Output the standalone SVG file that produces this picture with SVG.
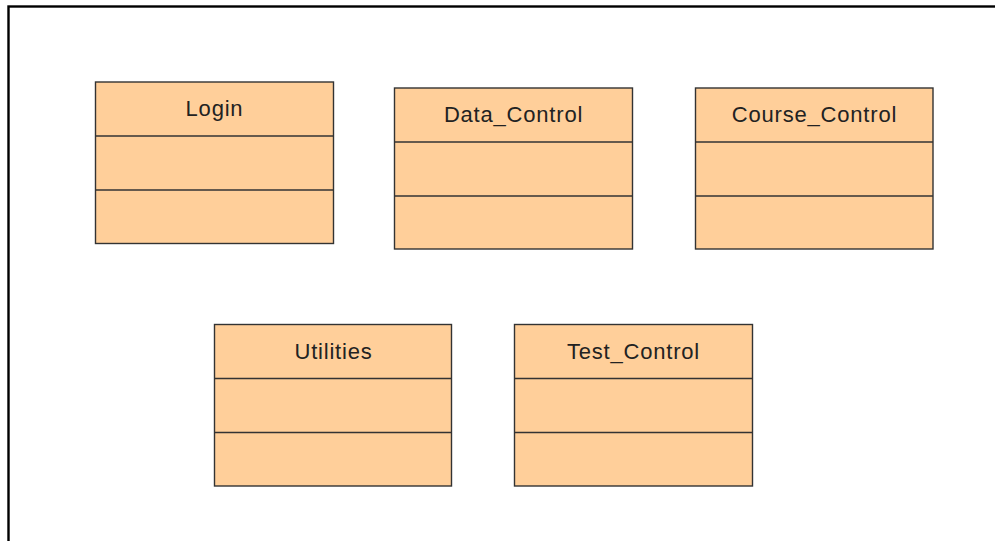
<svg xmlns="http://www.w3.org/2000/svg" width="995" height="541" viewBox="0 0 995 541">
  <style>
    .frame { fill: none; stroke: #000; stroke-width: 2.4; }
    .box { fill: #FFCF9A; stroke: #333; stroke-width: 1.4; }
    .div { stroke: #333; stroke-width: 1.4; }
    .name { font-family: "Liberation Sans", Arial, sans-serif; font-size: 22px; fill: #222; text-anchor: middle; letter-spacing: 0.8px; }
  </style>
  <rect width="995" height="541" fill="#fff"/>
  <!-- outer frame, open on the right and bottom edges of the view -->
  <rect class="frame" x="8.5" y="6.5" width="1010" height="600"/>

  <g id="Login">
    <rect class="box" x="95.5" y="82" width="238" height="161.5"/>
    <line class="div" x1="95.5" y1="136" x2="333.5" y2="136"/>
    <line class="div" x1="95.5" y1="190" x2="333.5" y2="190"/>
    <text class="name" x="214.5" y="116">Login</text>
  </g>

  <g id="Data_Control">
    <rect class="box" x="394.5" y="88" width="238" height="161"/>
    <line class="div" x1="394.5" y1="142" x2="632.5" y2="142"/>
    <line class="div" x1="394.5" y1="196" x2="632.5" y2="196"/>
    <text class="name" x="513.5" y="122">Data_Control</text>
  </g>

  <g id="Course_Control">
    <rect class="box" x="695.5" y="88" width="237.5" height="161"/>
    <line class="div" x1="695.5" y1="142" x2="933" y2="142"/>
    <line class="div" x1="695.5" y1="196" x2="933" y2="196"/>
    <text class="name" x="814.5" y="122">Course_Control</text>
  </g>

  <g id="Utilities">
    <rect class="box" x="214.5" y="324.5" width="237" height="161.5"/>
    <line class="div" x1="214.5" y1="378.5" x2="451.5" y2="378.5"/>
    <line class="div" x1="214.5" y1="432.5" x2="451.5" y2="432.5"/>
    <text class="name" x="333.5" y="359">Utilities</text>
  </g>

  <g id="Test_Control">
    <rect class="box" x="514.5" y="324.5" width="238" height="161.5"/>
    <line class="div" x1="514.5" y1="378.5" x2="752.5" y2="378.5"/>
    <line class="div" x1="514.5" y1="432.5" x2="752.5" y2="432.5"/>
    <text class="name" x="633.5" y="359">Test_Control</text>
  </g>

  <g id="connectors"/>
</svg>
